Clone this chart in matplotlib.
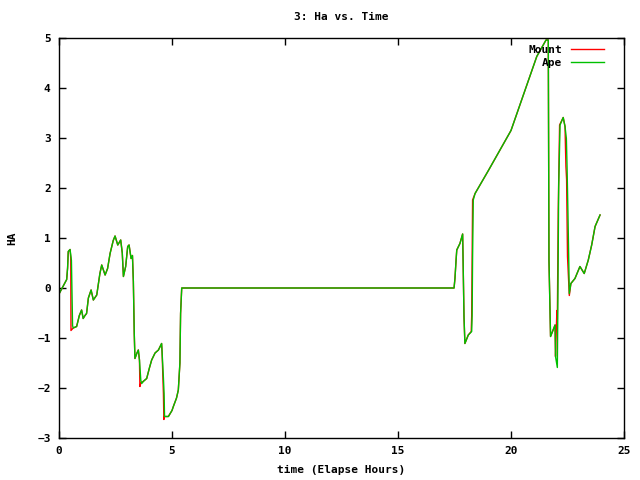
import matplotlib
matplotlib.use('Agg')
import matplotlib.pyplot as plt

# elapsed hours / hour angle
ape_hours = [0.0, 0.34, 0.38, 0.41, 0.49, 0.55, 0.60, 0.63, 0.78, 0.90, 1.00, 1.07, 1.15, 1.22,
             1.30, 1.42, 1.52, 1.67, 1.81, 1.89, 2.04, 2.15, 2.26, 2.40, 2.48, 2.60, 2.73, 2.80,
             2.85, 2.95, 3.04, 3.10, 3.19, 3.25, 3.29, 3.33, 3.36, 3.45, 3.51, 3.56, 3.62, 3.66,
             3.75, 3.88, 4.00, 4.10, 4.25, 4.40, 4.54, 4.56, 4.62, 4.65, 4.67, 4.84, 5.00, 5.06,
             5.20, 5.28, 5.35, 5.38, 5.43, 17.48, 17.52, 17.57, 17.60, 17.74, 17.86, 17.88, 17.92,
             17.96, 18.11, 18.26, 18.28, 18.30, 18.33, 18.41, 19.00, 20.00, 21.14, 21.55, 21.65,
             21.66, 21.68, 21.75, 21.95, 21.97, 22.05, 22.07, 22.11, 22.17, 22.31, 22.39, 22.45,
             22.48, 22.52, 22.58, 22.65, 22.83, 23.05, 23.24, 23.42, 23.57, 23.72, 23.94]
ape_ha = [-0.12, 0.17, 0.40, 0.73, 0.77, 0.55, -0.75, -0.80, -0.77, -0.55, -0.44, -0.61, -0.55, -0.51,
          -0.20, -0.04, -0.24, -0.14, 0.29, 0.46, 0.26, 0.39, 0.69, 0.95, 1.04, 0.86, 0.96, 0.70,
          0.23, 0.43, 0.83, 0.86, 0.59, 0.65, 0.13, -0.91, -1.41, -1.30, -1.24, -1.44, -1.85, -1.91,
          -1.86, -1.81, -1.60, -1.44, -1.30, -1.24, -1.11, -1.27, -1.80, -2.11, -2.57, -2.57, -2.45, -2.37,
          -2.20, -2.04, -1.50, -0.51, 0.0, 0.0, 0.19, 0.56, 0.76, 0.89, 1.08, 0.56, -0.57,
          -1.11, -0.94, -0.87, -0.55, 0.60, 1.76, 1.89, 2.35, 3.15, 4.63, 4.96, 4.96,
          3.49, 0.56, -0.97, -0.74, -1.37, -1.59, -0.51, 2.03, 3.26, 3.41, 3.23, 2.99,
          2.43, 1.49, -0.11, 0.09, 0.19, 0.43, 0.29, 0.56, 0.86, 1.23, 1.46]

mount_hours = [0.0, 0.34, 0.38, 0.41, 0.49, 0.52, 0.53, 0.63, 0.78, 0.90, 1.00, 1.07, 1.15, 1.22,
               1.30, 1.42, 1.52, 1.67, 1.81, 1.89, 2.04, 2.15, 2.26, 2.40, 2.48, 2.60, 2.73, 2.80,
               2.85, 2.95, 3.04, 3.10, 3.19, 3.25, 3.29, 3.33, 3.36, 3.45, 3.51, 3.56, 3.58, 3.62,
               3.75, 3.88, 4.00, 4.10, 4.25, 4.40, 4.54, 4.56, 4.62, 4.64, 4.66, 4.84, 5.00, 5.06,
               5.20, 5.28, 5.35, 5.38, 5.43, 17.48, 17.52, 17.57, 17.60, 17.74, 17.86, 17.88, 17.92,
               17.96, 18.11, 18.24, 18.26, 18.28, 18.30, 18.41, 19.00, 20.00, 21.14, 21.55, 21.65,
               21.66, 21.68, 21.75, 21.95, 21.97, 22.03, 22.05, 22.09, 22.15, 22.31, 22.39, 22.43,
               22.46, 22.50, 22.58, 22.65, 22.83, 23.05, 23.24, 23.42, 23.57, 23.72, 23.94]
mount_ha = [-0.12, 0.17, 0.40, 0.73, 0.77, 0.60, -0.85, -0.80, -0.77, -0.55, -0.44, -0.61, -0.55, -0.51,
            -0.20, -0.04, -0.24, -0.14, 0.29, 0.46, 0.26, 0.39, 0.69, 0.95, 1.04, 0.86, 0.96, 0.70,
            0.23, 0.43, 0.83, 0.86, 0.59, 0.65, 0.13, -0.91, -1.41, -1.30, -1.24, -1.44, -1.97, -1.90,
            -1.86, -1.81, -1.60, -1.44, -1.30, -1.24, -1.11, -1.27, -2.11, -2.63, -2.57, -2.57, -2.45, -2.37,
            -2.20, -2.04, -1.50, -0.51, 0.0, 0.0, 0.19, 0.56, 0.76, 0.89, 1.08, 0.56, -0.57,
            -1.11, -0.94, -0.87, -0.57, 0.56, 1.76, 1.89, 2.35, 3.15, 4.63, 4.96, 4.96,
            3.49, 0.56, -0.97, -0.74, -1.37, -0.45, -0.62, 1.56, 3.26, 3.41, 3.23, 2.43,
            2.17, 0.63, -0.15, 0.09, 0.19, 0.43, 0.29, 0.56, 0.86, 1.23, 1.46]

font = {'family': 'DejaVu Sans Mono', 'weight': 'bold', 'size': 8}

fig = plt.figure(figsize=(6.4, 4.8), dpi=100)
ax = fig.add_axes([59 / 640, 1 - 438 / 480, 565 / 640, 400 / 480])

ax.plot(mount_hours, mount_ha, color='#ff0000', lw=1, label='Mount')
ax.plot(ape_hours, ape_ha, color='#00c000', lw=1, label='Ape')

ax.set_xlim(0, 25)
ax.set_ylim(-3, 5)
ax.set_xticks(range(0, 26, 5))
ax.set_yticks(range(-3, 6))
ax.tick_params(direction='in', length=5, width=1, top=True, right=True, pad=6)
for lbl in ax.get_xticklabels() + ax.get_yticklabels():
    lbl.set_fontfamily(font['family'])
    lbl.set_fontweight('bold')
    lbl.set_fontsize(8)
for s in ax.spines.values():
    s.set_linewidth(1)

ax.set_title('3: Ha vs. Time', fontdict=font, pad=13)
ax.set_xlabel('time (Elapse Hours)', fontdict=font, labelpad=6)
ax.set_ylabel('HA', fontdict=font, labelpad=14)

# key sits a little inside the right border, samples to the right of the text
leg = ax.legend(loc='upper right', bbox_to_anchor=(1 - 13 / 565, 1.0), frameon=False,
                markerfirst=False, handlelength=3.0,
                prop={'family': 'DejaVu Sans Mono', 'weight': 'bold', 'size': 8},
                borderaxespad=0.2, labelspacing=0.3, handletextpad=0.8)
for t in leg.get_texts():
    t.set_ha('right')

fig.savefig('out.png', dpi=100)
